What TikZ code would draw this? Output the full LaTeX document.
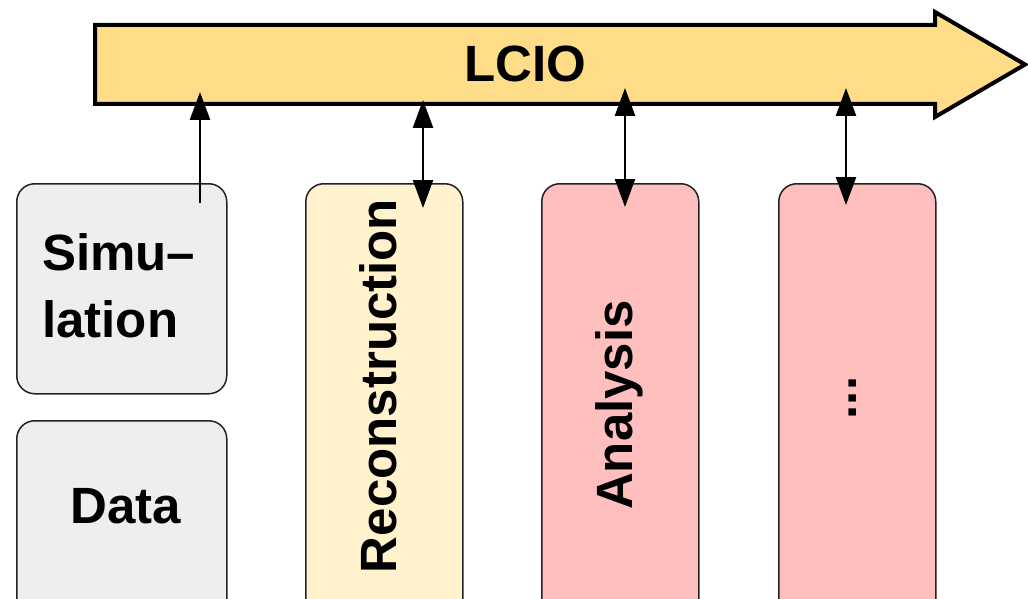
\documentclass[tikz,border=0pt]{standalone}
\usepackage{fontspec}
\setmainfont{Liberation Sans}
\usetikzlibrary{arrows.meta}
\definecolor{bandfill}{HTML}{FFDD88}
\definecolor{graybox}{HTML}{EEEEEE}
\definecolor{creambox}{HTML}{FFF2CC}
\definecolor{pinkbox}{HTML}{FFBFBF}
\definecolor{edgegray}{HTML}{222222}
\tikzset{
  box/.style={draw=edgegray, line width=1.5pt, rounded corners=18pt, rectangle, anchor=north west, inner sep=0pt},
  bigtext/.style={font=\fontsize{51}{67}\selectfont\bfseries, inner sep=0pt, align=center},
  conn/.style={line width=2.5pt, -{Triangle[length=28pt,width=20pt]}},
  conn2/.style={line width=2.5pt, {Triangle[length=28pt,width=20pt]}-{Triangle[length=28pt,width=20pt]}},
}
\begin{document}
\begin{tikzpicture}[x=1pt,y=-1pt]
\useasboundingbox (0,0) rectangle (1028,599);
% LCIO band
\draw[line width=4pt, fill=bandfill, line join=miter]
  (95,25) -- (935,25) -- (935,12) -- (1025,64.5) -- (935,117) -- (935,104) -- (95,104) -- cycle;
\node[bigtext] (lcio) at (525,64) {LCIO};
% boxes
\node[box, fill=graybox, minimum width=210pt, minimum height=210pt] (sim) at (16,183) {};
\node[box, fill=graybox, minimum width=210pt, minimum height=220pt] (data) at (16,420) {};
\node[box, fill=creambox, minimum width=157pt, minimum height=460pt] (reco) at (305,183) {};
\node[box, fill=pinkbox, minimum width=157pt, minimum height=460pt] (ana) at (541,183) {};
\node[box, fill=pinkbox, minimum width=157pt, minimum height=460pt] (more) at (778,183) {};
% labels
\node[bigtext, align=left, anchor=west] (simt) at (42,286) {Simu–\\lation};
\node[bigtext] (datat) at (125.5,506.5) {Data};
\node[bigtext, rotate=90] (recot) at (378,386) {Reconstruction};
\node[bigtext, rotate=90] (anat) at (619,405) {Analysis};
\node[bigtext, rotate=90] (moret) at (853,398) {...};
% connector end points
\coordinate (simS) at (200,203);
\coordinate (simE) at (200,92);
\coordinate (recoS) at (423,208);
\coordinate (recoE) at (423,100);
\coordinate (anaS) at (625,207);
\coordinate (anaE) at (625,88);
\coordinate (moreS) at (846,205);
\coordinate (moreE) at (846,88);
\draw[conn] (simS) -- (simE);
\draw[conn2] (recoS) -- (recoE);
\draw[conn2] (anaS) -- (anaE);
\draw[conn2] (moreS) -- (moreE);
\end{tikzpicture}
\end{document}
